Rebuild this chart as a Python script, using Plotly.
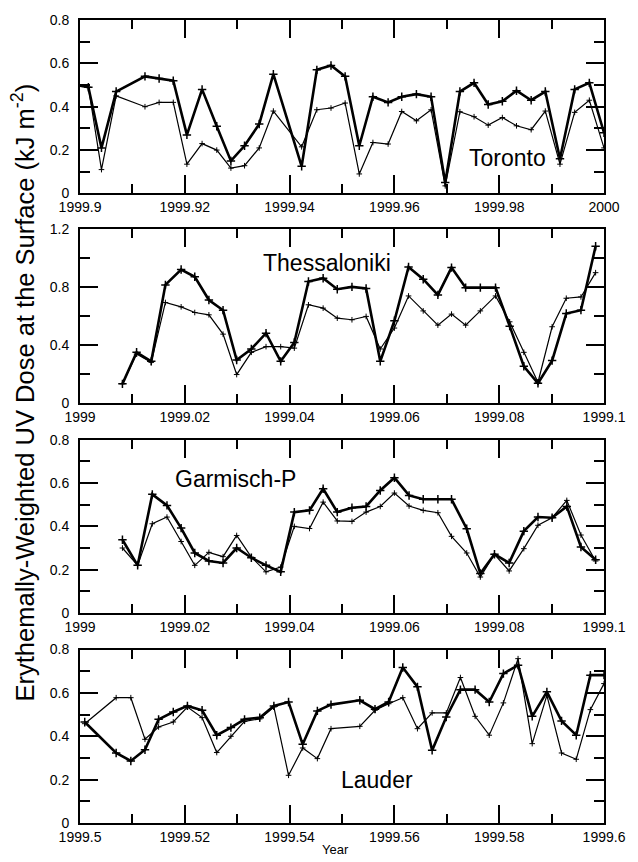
import plotly.graph_objects as go

# ---------------- data ----------------
toronto_x = [1999.8995, 1999.9016, 1999.9041, 1999.9069, 1999.9124, 1999.9151, 1999.9178, 1999.9204,
             1999.9233, 1999.9261, 1999.9288, 1999.9314, 1999.9342, 1999.9369, 1999.9423, 1999.9452,
             1999.9479, 1999.9506, 1999.9533, 1999.9559, 1999.9588, 1999.9614, 1999.9642, 1999.9670,
             1999.9697, 1999.9725, 1999.9752, 1999.9779, 1999.9806, 1999.9833, 1999.9861, 1999.9888,
             1999.9916, 1999.9944, 1999.9972, 2000.0000]
toronto_thick = [0.50, 0.49, 0.21, 0.47, 0.54, 0.53, 0.52, 0.27, 0.48, 0.31, 0.15, 0.22, 0.32, 0.55,
                 0.125, 0.57, 0.59, 0.54, 0.22, 0.446, 0.42, 0.446, 0.458, 0.446, 0.05, 0.47, 0.51,
                 0.41, 0.425, 0.474, 0.43, 0.47, 0.16, 0.48, 0.51, 0.28]
toronto_thin = [0.50, 0.49, 0.11, 0.45, 0.40, 0.42, 0.42, 0.135, 0.23, 0.20, 0.117, 0.128, 0.21, 0.38,
                0.215, 0.386, 0.394, 0.417, 0.09, 0.235, 0.228, 0.378, 0.335, 0.386, 0.035, 0.377,
                0.354, 0.315, 0.35, 0.312, 0.294, 0.38, 0.135, 0.374, 0.43, 0.21]

thess_x = [1999.0081, 1999.0108, 1999.0136, 1999.0163, 1999.0193, 1999.0219, 1999.0246, 1999.0273,
           1999.0299, 1999.0327, 1999.0355, 1999.0383, 1999.0409, 1999.0436, 1999.0464, 1999.0491,
           1999.0519, 1999.0546, 1999.0573, 1999.0600, 1999.0627, 1999.0655, 1999.0683, 1999.0709,
           1999.0736, 1999.0764, 1999.0793, 1999.0820, 1999.0847, 1999.0874, 1999.0901, 1999.0928,
           1999.0956, 1999.0984]
thess_thick = [0.133, 0.35, 0.288, 0.814, 0.92, 0.87, 0.71, 0.64, 0.297, 0.373, 0.482, 0.288, 0.418,
               0.837, 0.86, 0.784, 0.80, 0.789, 0.288, 0.567, 0.937, 0.853, 0.745, 0.933, 0.795,
               0.795, 0.795, 0.53, 0.254, 0.137, 0.293, 0.617, 0.64, 1.08]
thess_thin = [0.133, 0.338, 0.281, 0.693, 0.663, 0.624, 0.608, 0.475, 0.197, 0.35, 0.389, 0.389, 0.379,
              0.677, 0.654, 0.585, 0.574, 0.597, 0.373, 0.517, 0.738, 0.635, 0.537, 0.613, 0.537,
              0.635, 0.738, 0.56, 0.35, 0.144, 0.526, 0.722, 0.731, 0.898]

garm_x = [1999.0081, 1999.0110, 1999.0138, 1999.0166, 1999.0193, 1999.0219, 1999.0246, 1999.0273,
          1999.0299, 1999.0327, 1999.0355, 1999.0383, 1999.0409, 1999.0438, 1999.0464, 1999.0491,
          1999.0519, 1999.0546, 1999.0573, 1999.0600, 1999.0628, 1999.0655, 1999.0683, 1999.0709,
          1999.0738, 1999.0764, 1999.0791, 1999.0819, 1999.0847, 1999.0874, 1999.0901, 1999.0929,
          1999.0956, 1999.0984]
garm_thick = [0.338, 0.22, 0.548, 0.497, 0.392, 0.277, 0.24, 0.231, 0.30, 0.255, 0.22, 0.19, 0.466,
              0.474, 0.574, 0.466, 0.486, 0.492, 0.566, 0.625, 0.543, 0.525, 0.525, 0.525, 0.389,
              0.182, 0.271, 0.231, 0.378, 0.443, 0.44, 0.492, 0.305, 0.246]
garm_thin = [0.30, 0.22, 0.412, 0.443, 0.33, 0.22, 0.28, 0.26, 0.358, 0.258, 0.19, 0.212, 0.40, 0.39,
             0.512, 0.425, 0.423, 0.466, 0.492, 0.554, 0.494, 0.474, 0.463, 0.354, 0.277, 0.166,
             0.271, 0.194, 0.297, 0.405, 0.44, 0.52, 0.36, 0.24]

lauder_x = [1999.5009, 1999.5069, 1999.5097, 1999.5124, 1999.5150, 1999.5178, 1999.5205, 1999.5233,
            1999.5261, 1999.5288, 1999.5314, 1999.5343, 1999.5370, 1999.5398, 1999.5425, 1999.5453,
            1999.5479, 1999.5534, 1999.5563, 1999.5589, 1999.5616, 1999.5644, 1999.5672, 1999.5699,
            1999.5726, 1999.5754, 1999.5781, 1999.5808, 1999.5836, 1999.5863, 1999.5891, 1999.5919,
            1999.5947, 1999.5974, 1999.6000]
lauder_thick = [0.466, 0.323, 0.286, 0.338, 0.478, 0.512, 0.54, 0.52, 0.405, 0.44, 0.478, 0.486, 0.54,
                0.558, 0.363, 0.517, 0.546, 0.566, 0.525, 0.558, 0.717, 0.628, 0.335, 0.489, 0.615,
                0.615, 0.558, 0.689, 0.728, 0.492, 0.605, 0.471, 0.405, 0.682, 0.682]
lauder_thin = [0.458, 0.578, 0.578, 0.386, 0.443, 0.466, 0.535, 0.486, 0.325, 0.40, 0.469, 0.48, 0.535,
               0.22, 0.346, 0.297, 0.435, 0.446, 0.52, 0.55, 0.578, 0.435, 0.508, 0.508, 0.671,
               0.492, 0.405, 0.554, 0.758, 0.366, 0.589, 0.323, 0.294, 0.523, 0.643]

stations = ["Toronto", "Thessaloniki", "Garmisch-P", "Lauder"]

x_range_1 = [1999.9, 2000.0]
x_range_2 = [1999.0, 1999.1]
x_range_4 = [1999.5, 1999.6]
y_range_a = [0, 0.8]
y_range_b = [0, 1.2]

# --------------- figure ----------------
FONT = "Liberation Sans, Arial, Helvetica, sans-serif"
panels = [
    dict(x=toronto_x, thick=toronto_thick, thin=toronto_thin, xr=x_range_1,
         yr=y_range_a, ydt=0.2, ymd=0.1, dom=[0.784, 1.0]),
    dict(x=thess_x, thick=thess_thick, thin=thess_thin, xr=x_range_2,
         yr=y_range_b, ydt=0.4, ymd=0.2, dom=[0.5228, 0.740]),
    dict(x=garm_x, thick=garm_thick, thin=garm_thin, xr=x_range_2,
         yr=y_range_a, ydt=0.2, ymd=0.1, dom=[0.2616, 0.4772]),
    dict(x=lauder_x, thick=lauder_thick, thin=lauder_thin, xr=x_range_4,
         yr=y_range_a, ydt=0.2, ymd=0.1, dom=[0.0, 0.216]),
]

fig = go.Figure()
layout = {}
for i, p in enumerate(panels, start=1):
    xn = "x" if i == 1 else f"x{i}"
    yn = "y" if i == 1 else f"y{i}"
    fig.add_trace(go.Scatter(x=p["x"], y=p["thin"], xaxis=xn, yaxis=yn, mode="lines+markers",
                             line=dict(color="black", width=1.2),
                             marker=dict(symbol="cross-thin", size=4, line=dict(color="black", width=1)),
                             showlegend=False))
    fig.add_trace(go.Scatter(x=p["x"], y=p["thick"], xaxis=xn, yaxis=yn, mode="lines+markers",
                             line=dict(color="black", width=2.6),
                             marker=dict(symbol="cross-thin", size=6, line=dict(color="black", width=1.5)),
                             showlegend=False))
    common = dict(showgrid=False, zeroline=False, tickfont=dict(size=14, color="black", family=FONT),
                  tickwidth=2, tickcolor="black", linewidth=2, linecolor="black",
                  showline=True, mirror="allticks", ticks="inside", ticklen=18, tickformat="~g")
    key_x = "xaxis" if i == 1 else f"xaxis{i}"
    key_y = "yaxis" if i == 1 else f"yaxis{i}"
    layout[key_x] = dict(
        domain=[0, 1], anchor=yn, range=p["xr"], tickmode="linear", tick0=p["xr"][0], dtick=0.02,
        minor=dict(tickmode="linear", tick0=p["xr"][0], dtick=0.01, ticks="inside", ticklen=9,
                   tickwidth=2, tickcolor="black", showgrid=False),
        **common,
    )
    layout[key_y] = dict(
        domain=p["dom"], anchor=xn, range=p["yr"], tickmode="linear", tick0=0, dtick=p["ydt"],
        ticklabelstandoff=6,
        minor=dict(tickmode="linear", tick0=0, dtick=p["ymd"], ticks="inside", ticklen=10,
                   tickwidth=2, tickcolor="black", showgrid=False),
        **common,
    )

label_font = dict(size=23, color="black", family=FONT)
annotations = [
    dict(text=stations[0], x=0.816, y=0.828, xref="paper", yref="paper", showarrow=False,
         xanchor="center", yanchor="middle", font=label_font),
    dict(text=stations[1], x=0.471, y=0.698, xref="paper", yref="paper", showarrow=False,
         xanchor="center", yanchor="middle", font=label_font),
    dict(text=stations[2], x=0.296, y=0.429, xref="paper", yref="paper", showarrow=False,
         xanchor="center", yanchor="middle", font=label_font),
    dict(text=stations[3], x=0.567, y=0.0535, xref="paper", yref="paper", showarrow=False,
         xanchor="center", yanchor="middle", font=label_font),
    dict(text="Erythemally-Weighted UV Dose at the Surface (kJ m<sup>-2</sup>)", x=-0.109, y=0.536,
         xref="paper", yref="paper", showarrow=False, textangle=-90, xanchor="center", yanchor="middle",
         font=dict(size=25.5, color="black", family=FONT)),
    dict(text="Year", x=0.488, y=-0.0336, xref="paper", yref="paper", showarrow=False,
         xanchor="center", yanchor="middle", font=dict(size=13, color="black", family=FONT)),
]

fig.update_layout(
    width=638, height=862, margin=dict(l=80, r=25, t=19, b=39),
    paper_bgcolor="white", plot_bgcolor="white", showlegend=False,
    font=dict(family=FONT, color="black"), annotations=annotations, **layout,
)

fig.write_html("out.html")
